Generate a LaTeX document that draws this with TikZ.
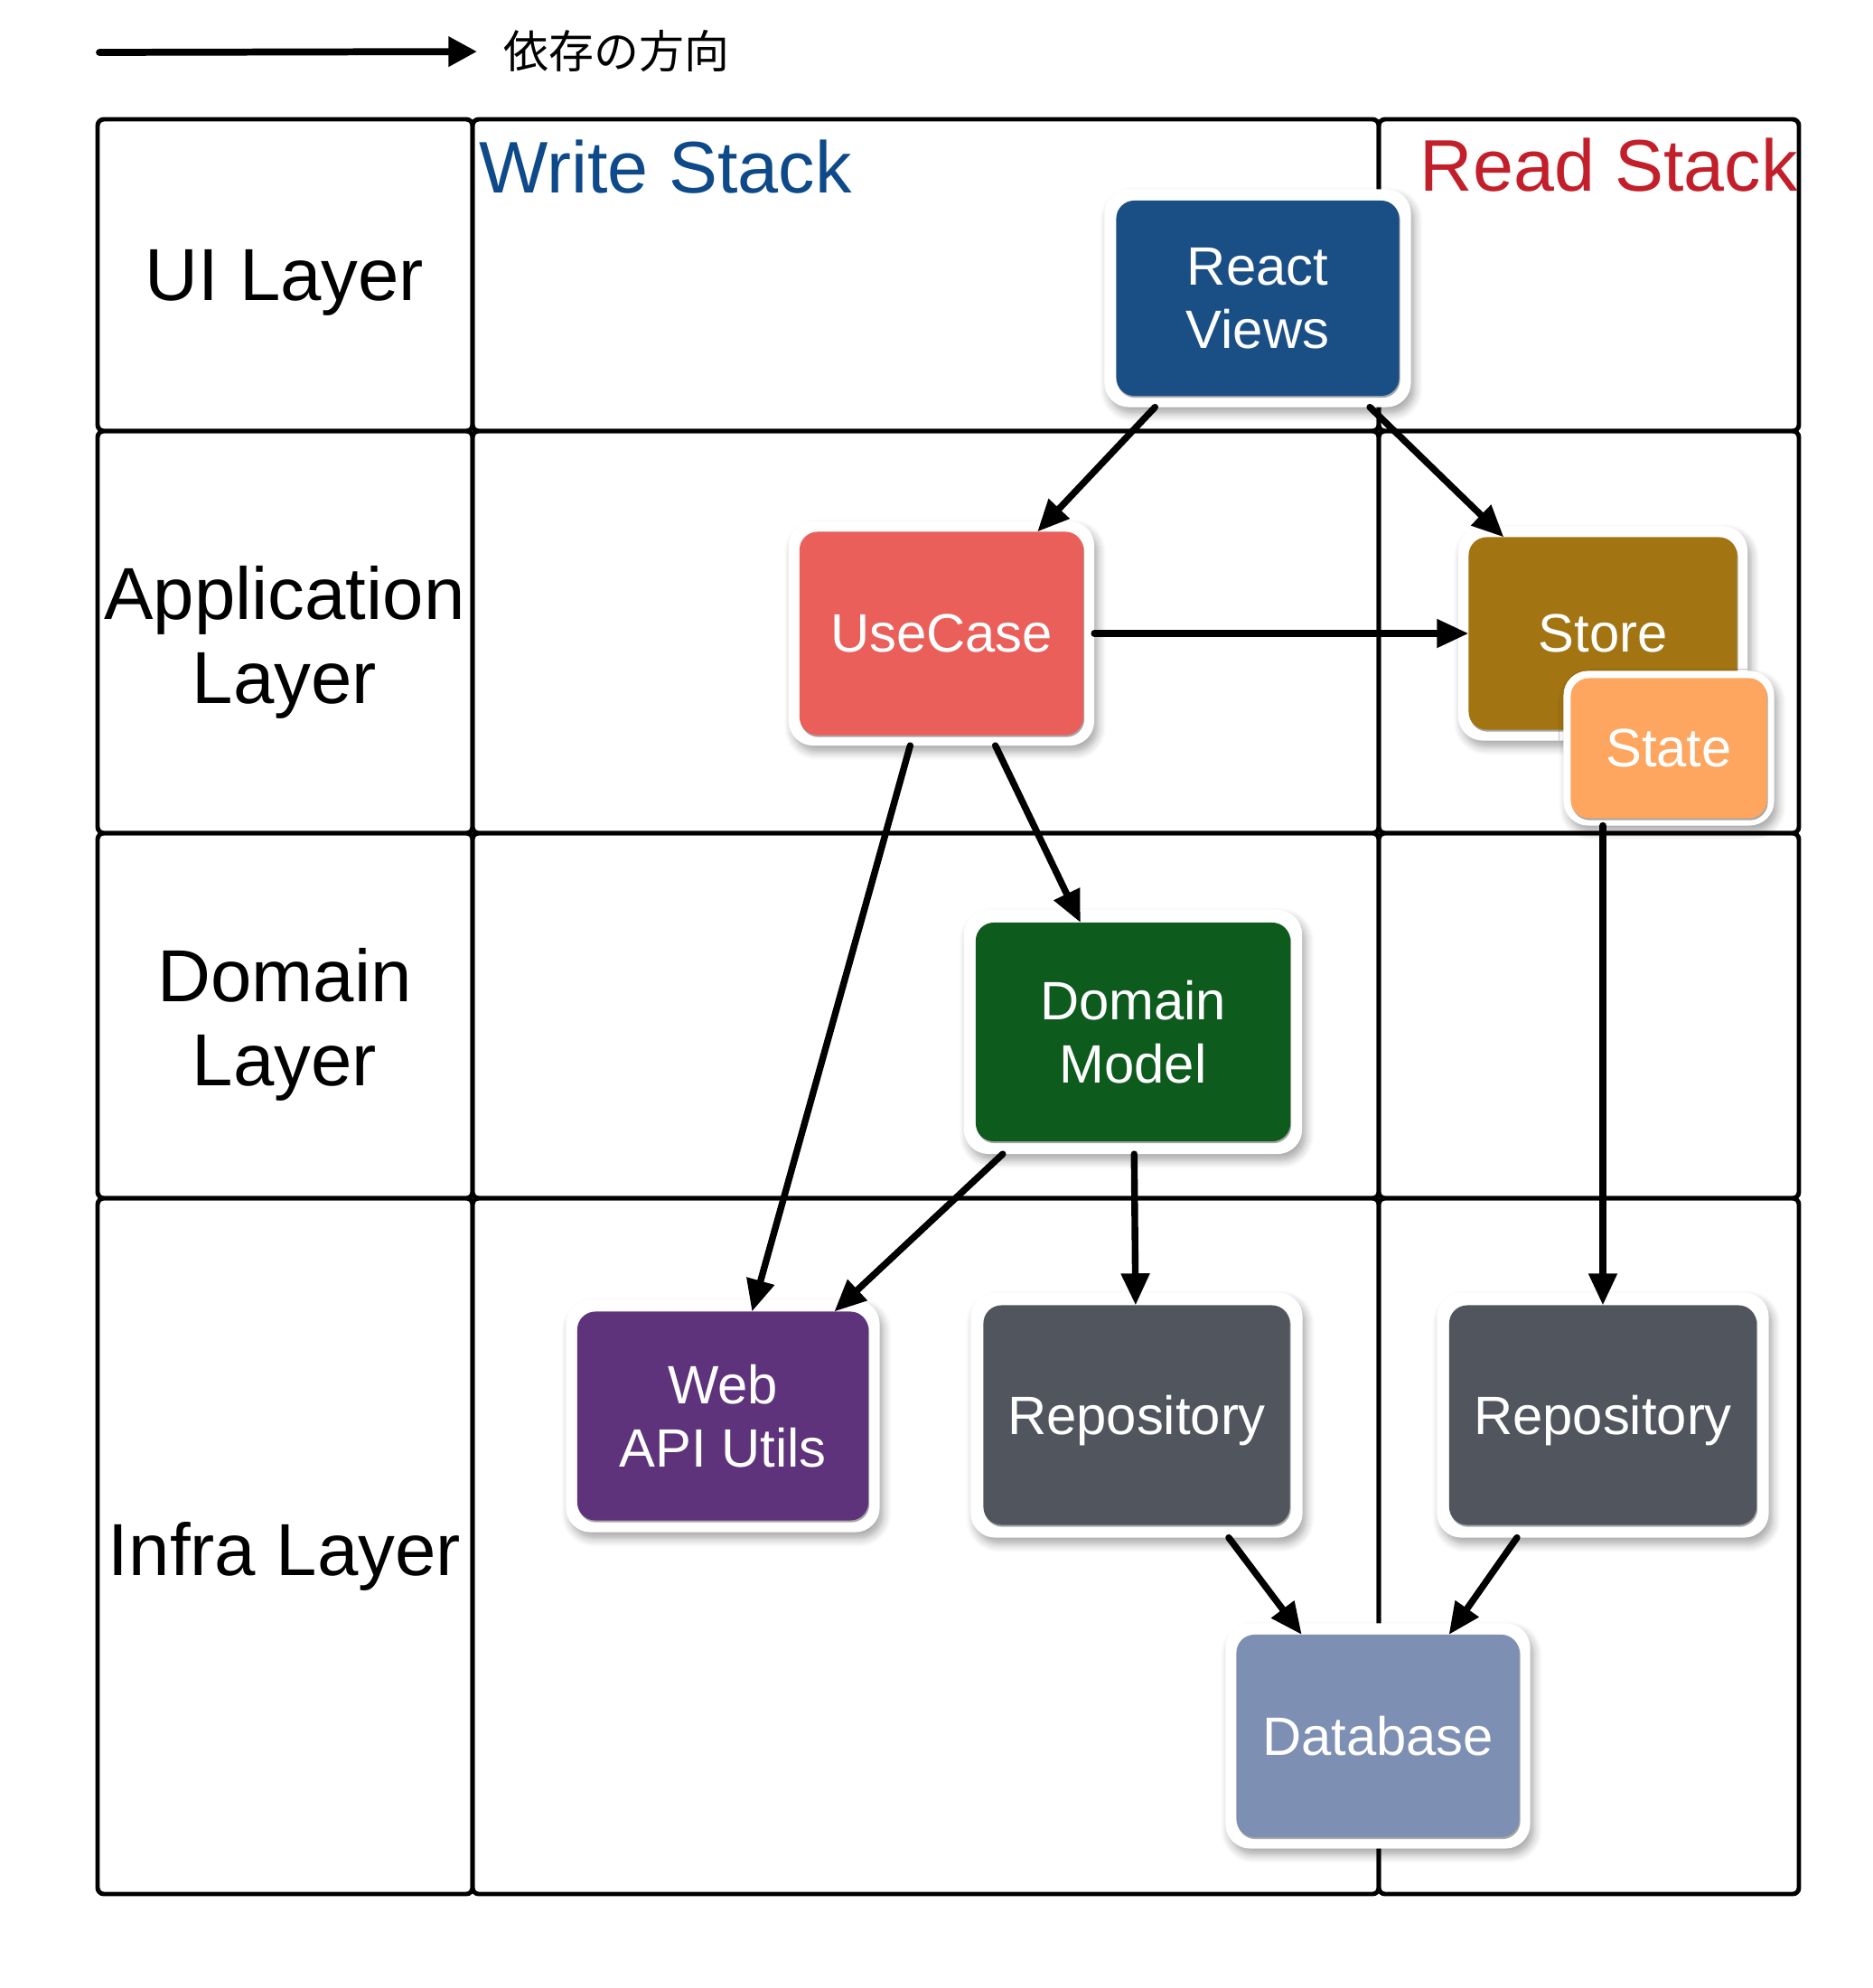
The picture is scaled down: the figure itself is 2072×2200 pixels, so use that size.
\documentclass[tikz,border=0pt]{standalone}
\usepackage{fontspec}
\setmainfont{Liberation Sans}
\newfontfamily\jpfont{Noto Sans CJK JP}
\usetikzlibrary{arrows.meta,shadows,shadows.blur,calc}

\definecolor{cReact}{HTML}{1A4F85}
\definecolor{cUse}{HTML}{EB5F5A}
\definecolor{cStore}{HTML}{A37512}
\definecolor{cState}{HTML}{FEA660}
\definecolor{cDomain}{HTML}{0E5B1E}
\definecolor{cWeb}{HTML}{5E337B}
\definecolor{cRepo}{HTML}{51565E}
\definecolor{cDB}{HTML}{7D8FB2}
\definecolor{cWrite}{HTML}{0E4A89}
\definecolor{cRead}{HTML}{C31F2A}

\tikzset{
  cell/.style={draw=black, line width=1.4pt, rounded corners=0.07cm},
  outerbox/.style={fill=white, rounded corners=0.27cm, inner sep=0pt, outer sep=0pt,
    blur shadow={shadow xshift=0.04cm, shadow yshift=-0.07cm, shadow blur radius=0.09cm,
      shadow blur steps=6, shadow opacity=35}},
  innerbox/.style={rounded corners=0.2cm, inner sep=0pt, outer sep=0pt, text=white,
    font=\fontsize{17}{20}\selectfont, align=center,
    drop shadow={shadow xshift=0.3pt, shadow yshift=-0.6pt, fill=black, opacity=0.35}},
  arr/.style={line width=2.1pt, line cap=round, -{Triangle[length=10pt, width=8.6pt]}},
  legarr/.style={line width=2.2pt, line cap=round, -{Triangle[length=9pt, width=9pt]}},
  layer/.style={font=\fontsize{23.2}{26.4}\selectfont, align=center, inner sep=0pt},
  stack/.style={font=\fontsize{23}{26}\selectfont, inner sep=0pt, anchor=base west},
}

% name, x, y, inner w, inner h, outer w, outer h, colour, text
\newcommand\cbox[9]{%
  \node[outerbox, minimum width=#6cm, minimum height=#7cm] (#1o) at (#2,#3) {};
  \node[innerbox, fill=#8, minimum width=#4cm, minimum height=#5cm] (#1) at (#2,#3) {#9};
}
\newcommand\nodepth[1]{\raisebox{0pt}[\height][0pt]{#1}}

\begin{document}
\begin{tikzpicture}[x=0.01cm, y=-0.01cm]
\useasboundingbox (0,0) rectangle (2072,2200);

% legend
\coordinate (ls) at (110,58);
\node[anchor=west, inner sep=0pt] (leg) at (557,57) {\jpfont\fontsize{14.2}{16}\selectfont 依存の方向};
\draw[legarr, shorten >=0.29cm] (ls) -- (leg.west);

% grid
\foreach \xa/\xb in {108/523, 523/1526, 1526/1991}
  \foreach \ya/\yb in {132/477, 477/922, 922/1326, 1326/2096}
    \draw[cell] (\xa,\ya) rectangle (\xb,\yb);

% layer labels
\node[layer] (lui) at (315,313) {UI Layer};
\node[layer] (lapp) at (315,711) {Application\\Layer};
\node[layer] (ldom) at (315,1134) {Domain\\Layer};
\node[layer] (linf) at (315,1722) {Infra Layer};

\node[stack, text=cWrite] (ws) at (530,213) {Write Stack};
\node[stack, text=cRead] (rs) at (1571,212) {Read Stack};

% boxes
\cbox{rv}{1392}{330}{3.13}{2.16}{3.39}{2.41}{cReact}{React\\Views}
\cbox{uc}{1042}{701}{3.14}{2.25}{3.38}{2.48}{cUse}{UseCase}
\cbox{sto}{1774}{701}{2.97}{2.13}{3.20}{2.37}{cStore}{Store}
\cbox{sta}{1847}{828}{2.17}{1.55}{2.33}{1.71}{cState}{State}
\cbox{dm}{1254}{1142}{3.48}{2.42}{3.74}{2.70}{cDomain}{Domain\\Model}
\cbox{wa}{800}{1567}{3.22}{2.31}{3.47}{2.57}{cWeb}{Web\\API Utils}
\cbox{ra}{1258}{1566}{3.39}{2.43}{3.67}{2.71}{cRepo}{\nodepth{Repository}}
\cbox{rb}{1774}{1566}{3.40}{2.43}{3.67}{2.71}{cRepo}{\nodepth{Repository}}
\cbox{db}{1525}{1921}{3.13}{2.24}{3.37}{2.49}{cDB}{Database}

% connectors
\draw[arr] (rvo) -- (uc);
\draw[arr] (rvo) -- (sto);
\draw[arr] (uco) -- (sto);
\draw[arr] (uco) -- (wa);
\draw[arr] (uco) -- (dm);
\draw[arr] (dmo) -- (wa);
\draw[arr] (dmo) -- (ra);
\draw[arr] (sto |- stao.south) -- (rb);
\draw[arr] (rao) -- (db);
\draw[arr] (rbo) -- (db);
\end{tikzpicture}
\end{document}
